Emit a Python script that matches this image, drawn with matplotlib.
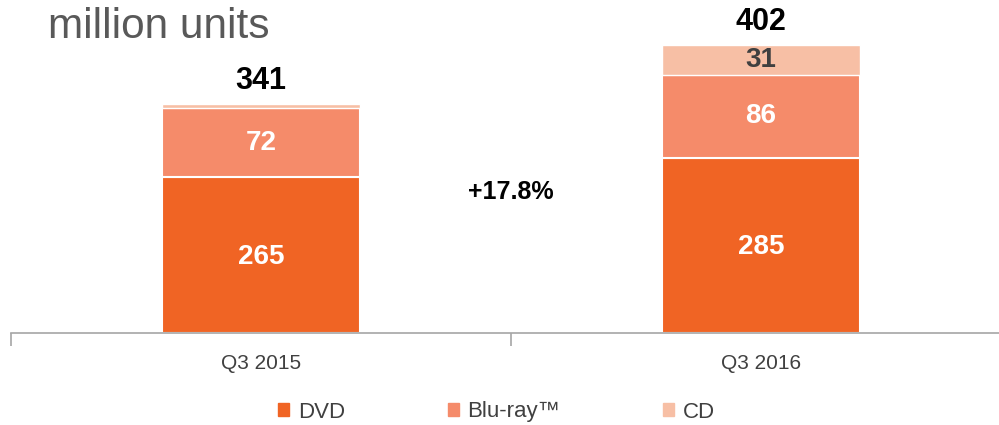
import numpy as np
import matplotlib.pyplot as plt
from matplotlib.patches import Patch

plt.rcParams['font.family'] = ['Liberation Sans', 'DejaVu Sans']

# data
periods = ['Q3 2015', 'Q3 2016']
dvd = [265, 285]
bluray = [72, 86]
cd = [4, 31]
totals = [341, 402]
growth_label = '+17.8%'

DVD_COLOR = '#F06424'
BLURAY_COLOR = '#F58B6A'
CD_COLOR = '#F7BFA5'

fig = plt.figure(figsize=(9.99, 4.25), dpi=100)
# axis baseline at y=333px from top, scale ~0.967 px per unit, base ~104
ax = fig.add_axes([11 / 999, 92 / 425, 1000 / 999, 320 / 425])
y_base = 104
y_top = y_base + 320 / 0.967
ax.set_ylim(y_base, y_top)
ax.set_xlim(-0.5, 1.5)

x = np.arange(len(periods))
w = 0.395
dvd_a = np.array(dvd)
blu_a = np.array(bluray)
cd_a = np.array(cd)

ax.bar(x, dvd_a - y_base, w, bottom=y_base, color=DVD_COLOR, edgecolor='white', linewidth=1.5)
ax.bar(x, blu_a, w, bottom=dvd_a, color=BLURAY_COLOR, edgecolor='white', linewidth=1.5)
ax.bar(x, cd_a, w, bottom=dvd_a + blu_a, color=CD_COLOR, edgecolor='white', linewidth=1.0)

for i in range(len(periods)):
    ax.text(x[i], (y_base + dvd_a[i]) / 2 - 2, str(dvd[i]), ha='center', va='center',
            color='white', fontsize=20, fontweight='bold')
    ax.text(x[i], dvd_a[i] + blu_a[i] / 2, str(bluray[i]), ha='center', va='center',
            color='white', fontsize=20, fontweight='bold')
    if cd[i] > 10:
        ax.text(x[i], dvd_a[i] + blu_a[i] + cd_a[i] / 2, str(cd[i]), ha='center', va='center',
                color='#404040', fontsize=20, fontweight='bold')
    ax.text(x[i], totals[i] + 8, str(totals[i]), ha='center', va='bottom',
            color='black', fontsize=22, fontweight='bold')

ax.text(0.5, 250, growth_label, ha='center', va='center', fontsize=18, fontweight='bold')

for s in ['top', 'right', 'left']:
    ax.spines[s].set_visible(False)
ax.spines['bottom'].set_color('#A6A6A6')
ax.spines['bottom'].set_linewidth(1.2)
ax.set_yticks([])
ax.set_xticks([-0.5, 0.5, 1.5])
ax.set_xticklabels([])
ax.set_xticks(x, minor=True)
ax.set_xticklabels(periods, minor=True)
ax.tick_params(axis='x', which='major', direction='out', length=9, color='#A6A6A6', width=1.2)
ax.tick_params(axis='x', which='minor', length=0, pad=15, labelsize=15, labelcolor='#404040')

fig.text(48 / 999, 1 - 27 / 425, 'million units', ha='left', va='center', fontsize=30.5, color='#595959')

handles = [Patch(color=DVD_COLOR), Patch(color=BLURAY_COLOR), Patch(color=CD_COLOR)]
fig.legend(handles, ['DVD', 'Blu-ray™', 'CD'], loc='center', bbox_to_anchor=(0.497, 1 - 412 / 425),
           ncol=3, frameon=False, fontsize=16, handlelength=0.5, handleheight=0.5,
           handletextpad=0.4, columnspacing=4.6, labelcolor='#404040')

fig.savefig('out.png', dpi=100)
